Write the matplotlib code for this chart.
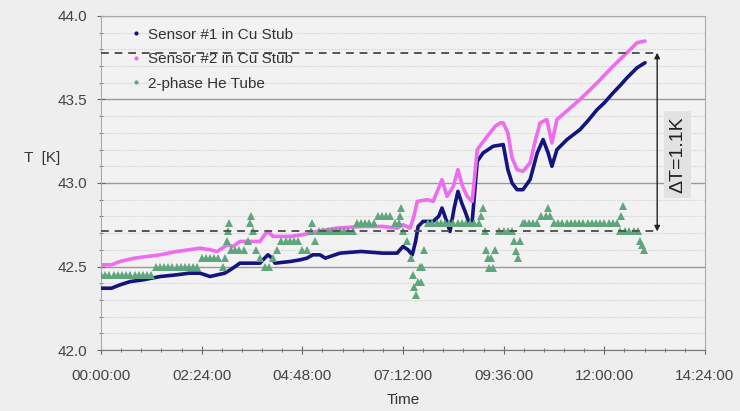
import matplotlib.pyplot as plt
from matplotlib.lines import Line2D
from matplotlib.ticker import MultipleLocator, FuncFormatter

plt.rcParams['font.family'] = ['Liberation Sans', 'DejaVu Sans']

# elapsed time [h] and temperature [K]
s1_t = [0.00, 0.25, 0.45, 0.70, 1.00, 1.41, 1.80, 2.10, 2.36, 2.60, 2.77, 2.95,
        3.08, 3.20, 3.31, 3.55, 3.79, 3.90, 3.98, 4.08, 4.15, 4.51, 4.75, 4.91,
        5.05, 5.22, 5.35, 5.46, 5.70, 6.20, 6.72, 7.06, 7.20, 7.32, 7.42, 7.50,
        7.56, 7.68, 7.92, 8.05, 8.13, 8.20, 8.32, 8.42, 8.51, 8.60, 8.68, 8.78,
        8.85, 8.97, 9.11, 9.35, 9.59, 9.70, 9.80, 9.92, 10.06, 10.23, 10.40,
        10.54, 10.66, 10.75, 10.87, 11.11, 11.42, 11.60, 11.83, 12.00, 12.21,
        12.40, 12.54, 12.78, 12.97]
s1_T = [42.37, 42.37, 42.39, 42.41, 42.42, 42.44, 42.45, 42.46, 42.46, 42.44, 42.45, 42.46,
        42.48, 42.50, 42.52, 42.52, 42.52, 42.55, 42.57, 42.55, 42.52, 42.53, 42.54, 42.55,
        42.57, 42.57, 42.55, 42.56, 42.58, 42.59, 42.58, 42.58, 42.62, 42.60, 42.57, 42.65,
        42.74, 42.77, 42.77, 42.80, 42.85, 42.80, 42.71, 42.85, 42.95, 42.88, 42.83, 42.76,
        42.77, 43.13, 43.18, 43.22, 43.23, 43.08, 43.00, 42.96, 42.96, 43.02, 43.18,
        43.26, 43.18, 43.10, 43.20, 43.26, 43.32, 43.37, 43.44, 43.48, 43.54,
        43.59, 43.63, 43.69, 43.72]

s2_t = [0.00, 0.25, 0.45, 0.80, 1.10, 1.41, 1.80, 2.10, 2.36, 2.60, 2.77, 3.01,
        3.15, 3.31, 3.79, 3.90, 3.98, 4.10, 4.51, 4.80, 5.15, 5.63, 6.25, 6.70,
        7.06, 7.20, 7.37, 7.46, 7.54, 7.78, 7.92, 8.13, 8.25, 8.40, 8.51, 8.62,
        8.73, 8.85, 8.97, 9.21, 9.40, 9.52, 9.59, 9.70, 9.80, 9.92, 10.06, 10.23,
        10.35, 10.47, 10.63, 10.75, 10.87, 11.10, 11.42, 11.83, 12.21, 12.54,
        12.78, 12.97]
s2_T = [42.51, 42.51, 42.53, 42.55, 42.56, 42.57, 42.59, 42.60, 42.61, 42.60, 42.59, 42.63,
        42.62, 42.65, 42.65, 42.69, 42.71, 42.68, 42.68, 42.69, 42.71, 42.73, 42.74, 42.74,
        42.73, 42.75, 42.73, 42.80, 42.89, 42.90, 42.89, 43.02, 42.92, 42.98, 43.08, 42.98,
        42.92, 42.89, 43.20, 43.28, 43.34, 43.36, 43.36, 43.30, 43.15, 43.08, 43.07, 43.12,
        43.25, 43.36, 43.38, 43.24, 43.38, 43.43, 43.50, 43.60, 43.70, 43.78,
        43.84, 43.85]

he_t = [0.0, 0.1, 0.2, 0.3, 0.4, 0.5, 0.6, 0.7, 0.8, 0.9, 1.0, 1.1, 1.2,
        1.3, 1.4, 1.5, 1.6, 1.7, 1.8, 1.9, 2.0, 2.1, 2.2, 2.3,
        2.4, 2.5, 2.6, 2.7, 2.8, 2.9, 2.95, 3.0, 3.02, 3.05, 3.1, 3.2, 3.3, 3.4,
        3.5, 3.55, 3.58, 3.62, 3.7, 3.8, 3.9, 4.0, 4.1, 4.2, 4.3, 4.4, 4.5, 4.6,
        4.7, 4.8, 4.9, 5.0, 5.03, 5.1, 5.2, 5.3, 5.4, 5.5, 5.6, 5.7, 5.8, 5.9,
        6.0, 6.1, 6.2, 6.3, 6.4, 6.5, 6.6, 6.7, 6.8, 6.9, 7.0, 7.1, 7.13, 7.16,
        7.2, 7.3, 7.4, 7.43, 7.46, 7.5, 7.55, 7.6, 7.63, 7.66, 7.7, 7.8, 7.9,
        8.0, 8.1, 8.2, 8.3, 8.4, 8.5, 8.6, 8.7, 8.8, 8.9, 9.0, 9.05, 9.1, 9.15,
        9.18, 9.22, 9.25, 9.3, 9.35, 9.4, 9.5, 9.6, 9.7, 9.8, 9.85, 9.9, 9.95,
        10.0, 10.05, 10.1, 10.2, 10.3, 10.4, 10.5, 10.6, 10.65, 10.7, 10.8,
        10.9, 11.0, 11.1, 11.2, 11.3, 11.4, 11.5, 11.6, 11.7, 11.8, 11.9, 12.0,
        12.1, 12.2, 12.3, 12.37, 12.4, 12.45, 12.5, 12.6, 12.7, 12.8, 12.85,
        12.9, 12.95]
he_T = [42.45, 42.45, 42.45, 42.45, 42.45, 42.45, 42.45, 42.45, 42.45, 42.45, 42.45, 42.45, 42.45,
        42.50, 42.50, 42.50, 42.50, 42.50, 42.50, 42.50, 42.50, 42.50, 42.50, 42.50,
        42.55, 42.55, 42.55, 42.55, 42.55, 42.50, 42.55, 42.65, 42.71, 42.76, 42.60, 42.60, 42.60, 42.60,
        42.65, 42.76, 42.80, 42.71, 42.60, 42.55, 42.50, 42.50, 42.55, 42.60, 42.65, 42.65, 42.65, 42.65,
        42.65, 42.60, 42.60, 42.71, 42.76, 42.65, 42.71, 42.71, 42.71, 42.71, 42.71, 42.71, 42.71, 42.71,
        42.71, 42.76, 42.76, 42.76, 42.76, 42.76, 42.80, 42.80, 42.80, 42.80, 42.76, 42.76, 42.80, 42.85,
        42.71, 42.65, 42.55, 42.45, 42.38, 42.33, 42.41, 42.50, 42.41, 42.50, 42.60, 42.76, 42.76,
        42.76, 42.76, 42.76, 42.76, 42.76, 42.76, 42.76, 42.76, 42.76, 42.76, 42.76, 42.80, 42.85, 42.71,
        42.60, 42.55, 42.49, 42.55, 42.49, 42.60, 42.71, 42.71, 42.71, 42.71, 42.65, 42.59, 42.55,
        42.65, 42.76, 42.76, 42.76, 42.76, 42.76, 42.80, 42.80, 42.85, 42.80, 42.76,
        42.76, 42.76, 42.76, 42.76, 42.76, 42.76, 42.76, 42.76, 42.76, 42.76, 42.76, 42.76,
        42.76, 42.76, 42.76, 42.71, 42.80, 42.86, 42.71, 42.71, 42.71, 42.71, 42.65,
        42.63, 42.60]

labels = ['Sensor #1 in Cu Stub', 'Sensor #2 in Cu Stub', '2-phase He Tube']
colors = ['#14147e', '#ee6cee', '#5fa67e']

dt_top = 43.78
dt_bottom = 42.71
dt_x = 13.26


def hms(x, pos):
    mins = int(round(x * 60))
    return '%02d:%02d:00' % (mins // 60, mins % 60)


fig = plt.figure(figsize=(7.4, 4.11), dpi=100, facecolor='#eeeeee')
ax = fig.add_axes([0.1365, 0.1484, 0.8162, 0.8127])
ax.set_facecolor('#f2f2f2')

ax.plot(s1_t, s1_T, color=colors[0], lw=2.6, solid_capstyle='round', zorder=3)
ax.plot(s2_t, s2_T, color=colors[1], lw=2.6, solid_capstyle='round', zorder=3)
ax.plot(he_t, he_T, ls='none', marker='^', ms=5.4, mew=0, color=colors[2], zorder=4)

# temperature rise markers
ax.plot([0, dt_x], [dt_top, dt_top], ls=(0, (4, 3)), color='#555555', lw=1.4, zorder=5)
ax.plot([0, dt_x], [dt_bottom, dt_bottom], ls=(0, (4, 3)), color='#555555', lw=1.4, zorder=5)
ax.annotate('', xy=(dt_x, dt_top), xytext=(dt_x, dt_bottom),
            arrowprops=dict(arrowstyle='<|-|>', color='#222222', lw=1.0,
                            mutation_scale=8, shrinkA=0, shrinkB=0), zorder=6)
ax.text(13.75, 43.17, 'ΔT=1.1K', rotation=90, ha='center', va='center',
        fontsize=14, color='#222222', zorder=6,
        bbox=dict(boxstyle='square,pad=0.25', fc='#e2e2e2', ec='none'))

ax.set_xlim(0, 14.4)
ax.set_ylim(42.0, 44.0)
ax.xaxis.set_major_locator(MultipleLocator(2.4))
ax.xaxis.set_minor_locator(MultipleLocator(0.48))
ax.xaxis.set_major_formatter(FuncFormatter(hms))
ax.yaxis.set_major_locator(MultipleLocator(0.5))
ax.yaxis.set_minor_locator(MultipleLocator(0.1))
ax.yaxis.set_major_formatter(FuncFormatter(lambda v, p: '%.1f' % v))

ax.grid(which='major', axis='y', color='#9a9a9a', lw=1.0)
ax.grid(which='minor', axis='y', color='#d2d2d2', lw=0.8, ls=(0, (1, 1)))
ax.set_axisbelow(True)

ax.tick_params(which='both', direction='inout', colors='#666666', labelcolor='#444444',
               labelsize=11)
ax.tick_params(which='major', length=6)
ax.tick_params(which='minor', length=3)
ax.tick_params(axis='x', pad=11)
ax.tick_params(axis='y', pad=7)
for side in ax.spines.values():
    side.set_color('#aaaaaa')
ax.spines['bottom'].set_color('#777777')

ax.set_xlabel('Time', fontsize=11, color='#333333', labelpad=7)
ax.text(-0.098, 0.575, 'T  [K]', transform=ax.transAxes, ha='center', va='center',
        fontsize=11, color='#333333')

handles = [Line2D([], [], ls='none', marker='o', ms=3, mew=0, color=c) for c in colors]
ax.legend(handles, labels, loc='upper left', bbox_to_anchor=(0.028, 1.006),
          frameon=False, fontsize=11, handlelength=0.6, handletextpad=0.5,
          labelspacing=0.68, labelcolor='#333333')

fig.savefig('out.png', dpi=100, facecolor=fig.get_facecolor())
